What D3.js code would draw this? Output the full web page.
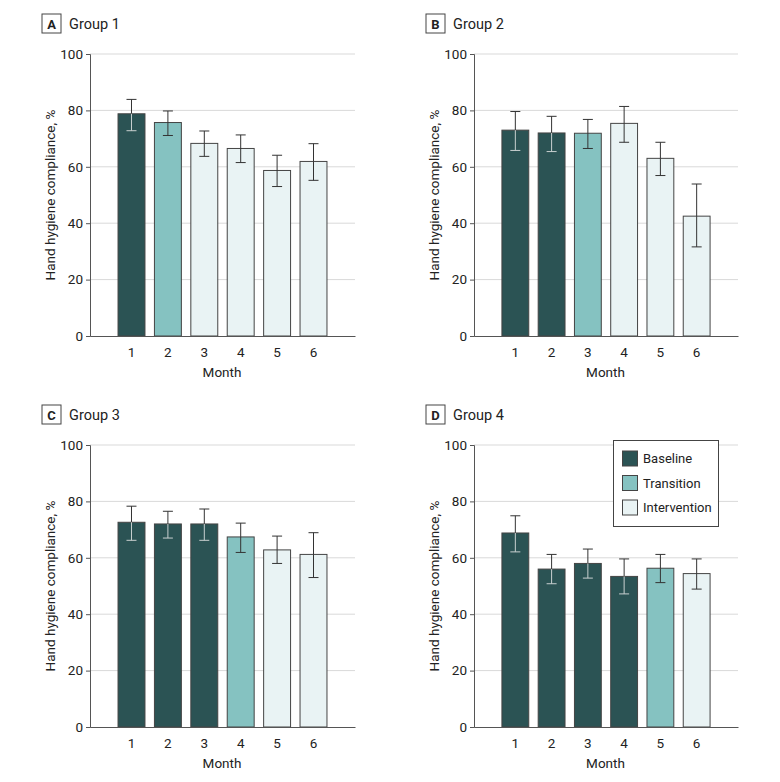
<!DOCTYPE html>
<html>
<head>
<meta charset="utf-8">
<script src="https://cdn.jsdelivr.net/npm/d3@7"></script>
<style>
  html, body { margin: 0; padding: 0; background: #fff; }
  svg { display: block; font-family: Roboto, "Noto Sans", sans-serif; }
</style>
</head>
<body>
<svg id="chart" width="780" height="782"></svg>
<script>
// ---- Data ----
const months = [1, 2, 3, 4, 5, 6];
const yTicks = [0, 20, 40, 60, 80, 100];
const panelLetters = ["A", "B", "C", "D"];
const groupNames = ["Group 1", "Group 2", "Group 3", "Group 4"];
const phaseNames = ["Baseline", "Transition", "Intervention"];

// phase per month for each group (0 = Baseline, 1 = Transition, 2 = Intervention)
const phasesG1 = [0, 1, 2, 2, 2, 2];
const phasesG2 = [0, 0, 1, 2, 2, 2];
const phasesG3 = [0, 0, 0, 1, 2, 2];
const phasesG4 = [0, 0, 0, 0, 1, 2];

const valuesG1 = [78.8, 75.7, 68.3, 66.5, 58.7, 61.9];
const lowerG1  = [72.8, 71.1, 63.7, 61.5, 53.0, 55.2];
const upperG1  = [83.9, 79.8, 72.7, 71.3, 64.1, 68.2];

const valuesG2 = [73.0, 72.0, 71.9, 75.4, 63.0, 42.5];
const lowerG2  = [65.8, 65.4, 66.5, 68.7, 56.9, 31.6];
const upperG2  = [79.6, 77.9, 76.8, 81.4, 68.7, 53.9];

const valuesG3 = [72.6, 72.0, 72.0, 67.4, 62.8, 61.2];
const lowerG3  = [66.2, 67.0, 66.2, 61.9, 58.0, 53.0];
const upperG3  = [78.3, 76.5, 77.3, 72.3, 67.7, 68.9];

const valuesG4 = [68.8, 56.0, 58.0, 53.4, 56.3, 54.4];
const lowerG4  = [62.1, 50.8, 52.8, 47.2, 51.2, 48.9];
const upperG4  = [74.9, 61.2, 63.1, 59.6, 61.2, 59.6];

// ---- Styling ----
const FONT = "Roboto, 'Noto Sans', sans-serif";
const phaseColors = ["#2b5354", "#85c2c1", "#e9f3f4"];
const innerErrColors = ["#c9d0d0", "#333", "#333"];
const axisColor = "#555";
const gridColor = "#d9d9d9";
const textColor = "#222";

const groups = [
  { phases: phasesG1, values: valuesG1, lower: lowerG1, upper: upperG1 },
  { phases: phasesG2, values: valuesG2, lower: lowerG2, upper: upperG2 },
  { phases: phasesG3, values: valuesG3, lower: lowerG3, upper: upperG3 },
  { phases: phasesG4, values: valuesG4, lower: lowerG4, upper: upperG4 }
];

const layout = [
  { x0: 90,  x1: 355, yTop: 54,  yBot: 336 },
  { x0: 474, x1: 738, yTop: 54,  yBot: 336 },
  { x0: 90,  x1: 355, yTop: 445, yBot: 727 },
  { x0: 474, x1: 738, yTop: 445, yBot: 727 }
];

const svg = d3.select("#chart");

groups.forEach((g, i) => {
  const L = layout[i];
  const panel = svg.append("g");

  const x = d3.scaleBand().domain(months).range([L.x0, L.x1])
    .paddingInner(0.26).paddingOuter(0.77);
  const y = d3.scaleLinear().domain([0, 100]).range([L.yBot, L.yTop]);

  // Title box
  panel.append("rect")
    .attr("x", L.x0 - 48).attr("y", L.yTop - 40)
    .attr("width", 19).attr("height", 19)
    .attr("fill", "#fff").attr("stroke", "#444").attr("stroke-width", 1);
  panel.append("text")
    .attr("x", L.x0 - 38.5).attr("y", L.yTop - 25.5)
    .attr("text-anchor", "middle")
    .attr("font-size", 13).attr("font-weight", "bold").attr("fill", textColor)
    .text(panelLetters[i]);
  panel.append("text")
    .attr("x", L.x0 - 21).attr("y", L.yTop - 25.5)
    .attr("font-size", 14.5).attr("fill", textColor)
    .text(groupNames[i]);

  // Gridlines
  panel.append("g").selectAll("line")
    .data(yTicks.filter(t => t > 0))
    .join("line")
    .attr("x1", L.x0).attr("x2", L.x1)
    .attr("y1", d => y(d)).attr("y2", d => y(d))
    .attr("stroke", gridColor).attr("stroke-width", 1);

  // Y axis
  const yAxis = panel.append("g")
    .attr("transform", `translate(${L.x0},0)`)
    .call(d3.axisLeft(y).tickValues(yTicks).tickSize(4).tickPadding(3));
  yAxis.select(".domain").attr("stroke", axisColor);
  yAxis.selectAll(".tick line").attr("stroke", axisColor);
  yAxis.selectAll(".tick text").attr("font-size", 13.5).attr("fill", textColor)
    .attr("font-family", FONT);

  // Bars
  panel.append("g").selectAll("rect")
    .data(months)
    .join("rect")
    .attr("x", (m) => x(m))
    .attr("width", x.bandwidth())
    .attr("y", (m, j) => y(g.values[j]))
    .attr("height", (m, j) => y(0) - y(g.values[j]))
    .attr("fill", (m, j) => phaseColors[g.phases[j]])
    .attr("stroke", "#444").attr("stroke-width", 1);

  // Error bars
  const eb = panel.append("g");
  months.forEach((m, j) => {
    const cx = x(m) + x.bandwidth() / 2;
    const ph = g.phases[j];
    eb.append("line")
      .attr("x1", cx).attr("x2", cx)
      .attr("y1", y(g.upper[j])).attr("y2", y(g.values[j]))
      .attr("stroke", "#333").attr("stroke-width", 1);
    eb.append("line")
      .attr("x1", cx - 5).attr("x2", cx + 5)
      .attr("y1", y(g.upper[j])).attr("y2", y(g.upper[j]))
      .attr("stroke", "#333").attr("stroke-width", 1);
    eb.append("line")
      .attr("x1", cx).attr("x2", cx)
      .attr("y1", y(g.values[j])).attr("y2", y(g.lower[j]))
      .attr("stroke", innerErrColors[ph]).attr("stroke-width", 1);
    eb.append("line")
      .attr("x1", cx - 5).attr("x2", cx + 5)
      .attr("y1", y(g.lower[j])).attr("y2", y(g.lower[j]))
      .attr("stroke", innerErrColors[ph]).attr("stroke-width", 1);
  });

  // X axis
  const xAxis = panel.append("g")
    .attr("transform", `translate(0,${L.yBot})`)
    .call(d3.axisBottom(x).tickSize(0).tickPadding(11).tickSizeOuter(0));
  xAxis.select(".domain").attr("stroke", axisColor);
  xAxis.selectAll(".tick text").attr("font-size", 13.5).attr("fill", textColor)
    .attr("font-family", FONT);

  // Axis titles
  panel.append("text")
    .attr("x", (L.x0 + L.x1) / 2 - 0.5).attr("y", L.yBot + 41)
    .attr("text-anchor", "middle").attr("font-size", 13.5).attr("fill", textColor)
    .text("Month");
  panel.append("text")
    .attr("transform", `translate(${L.x0 - 35},${(L.yTop + L.yBot) / 2}) rotate(-90)`)
    .attr("text-anchor", "middle").attr("font-size", 13.5).attr("fill", textColor)
    .text("Hand hygiene compliance, %");

  // Legend in panel D
  if (i === 3) {
    const lg = panel.append("g");
    lg.append("rect")
      .attr("x", 613.5).attr("y", 440.5).attr("width", 105).attr("height", 86)
      .attr("fill", "#fff").attr("stroke", "#444").attr("stroke-width", 1);
    phaseNames.forEach((p, k) => {
      lg.append("rect")
        .attr("x", 622.5).attr("y", 451 + k * 24.5)
        .attr("width", 15).attr("height", 15)
        .attr("fill", phaseColors[k]).attr("stroke", "#444").attr("stroke-width", 1);
      lg.append("text")
        .attr("x", 643).attr("y", 463 + k * 24.5)
        .attr("font-size", 13).attr("fill", textColor)
        .text(p);
    });
  }
});
</script>
</body>
</html>
